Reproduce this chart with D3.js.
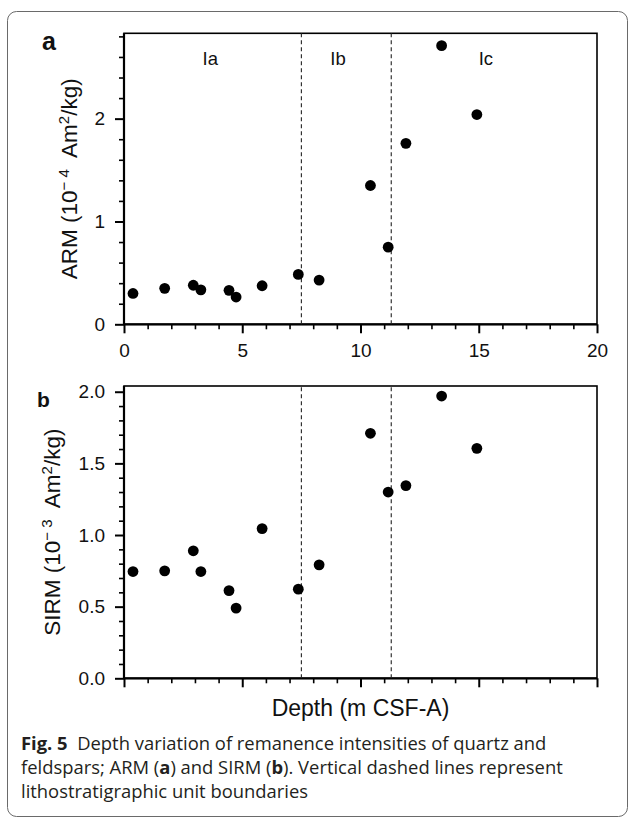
<!DOCTYPE html>
<html><head><meta charset="utf-8">
<script src="https://cdn.jsdelivr.net/npm/d3@7"></script>
<style>
body{margin:0;background:#fff;}
svg{display:block;}
</style></head>
<body>
<svg id="chart" width="629" height="820"></svg>
<script>
// ---- data ----
const depth = [0.38, 1.72, 2.93, 3.25, 4.44, 4.74, 5.84, 7.37, 8.25, 10.42, 11.17, 11.92, 13.43, 14.92];
const arm   = [0.30, 0.35, 0.38, 0.335, 0.33, 0.265, 0.375, 0.485, 0.43, 1.35, 0.75, 1.76, 2.71, 2.04];
const sirm  = [0.745, 0.75, 0.89, 0.745, 0.612, 0.49, 1.045, 0.622, 0.792, 1.71, 1.30, 1.345, 1.97, 1.605];
const boundaries = [7.5, 11.3];
const unitNames = ["Ia", "Ib", "Ic"];
const unitPos = [3.65, 9.05, 15.3];
const xTicks = [0, 5, 10, 15, 20];
const armTicks = [0, 1, 2];
const sirmTicks = [0, 0.5, 1.0, 1.5, 2.0];

const svg = d3.select("#chart");
const FONT = "'Liberation Sans', Arial, sans-serif";

// outer rounded border
svg.append("rect").attr("x", 7.5).attr("y", 11.5).attr("width", 620).attr("height", 805)
  .attr("rx", 9).attr("fill", "none").attr("stroke", "#6a6a6a").attr("stroke-width", 1);

const x = d3.scaleLinear().domain([0, 20]).range([124, 597]);

function panel(opts) {
  const {y, vals, majorY, minorStep, fmt, letter, letterPos, letterSize, showXLabels, yTitle, yTitleX, sup} = opts;
  const g = svg.append("g");
  const [y0, y1] = y.range();
  // frame
  g.append("rect").attr("x", x(0)).attr("y", y1).attr("width", x(20) - x(0)).attr("height", y0 - y1)
    .attr("fill", "none").attr("stroke", "#000").attr("stroke-width", 1.6);

  // minor x ticks
  const minorX = d3.range(0, 21, 1).filter(v => v % 5 !== 0);
  g.append("g").attr("transform", `translate(0,${y0})`)
    .call(d3.axisBottom(x).tickValues(minorX).tickSize(5).tickFormat(""))
    .call(a => a.select(".domain").remove())
    .call(a => a.selectAll("line").attr("stroke-width", 1.6));
  const xa = g.append("g").attr("transform", `translate(0,${y0})`)
    .call(d3.axisBottom(x).tickValues(xTicks).tickSize(9).tickPadding(10)
      .tickFormat(showXLabels ? d3.format("d") : ""));
  xa.select(".domain").attr("stroke-width", 2.2).attr("d", `M${x(0)},0H${x(20)}`);
  xa.selectAll("line").attr("stroke-width", 2);
  xa.selectAll("text").attr("font-family", FONT).attr("font-size", 19).attr("fill", "#111");

  // minor y ticks
  const top = y.domain()[1];
  const minorY = d3.range(0, top + 1e-9, minorStep).filter(v => !majorY.some(m => Math.abs(m - v) < 1e-6));
  g.append("g").attr("transform", `translate(${x(0)},0)`)
    .call(d3.axisLeft(y).tickValues(minorY).tickSize(5).tickFormat(""))
    .call(a => a.select(".domain").remove())
    .call(a => a.selectAll("line").attr("stroke-width", 1.6));
  const ya = g.append("g").attr("transform", `translate(${x(0)},0)`)
    .call(d3.axisLeft(y).tickValues(majorY).tickSize(9).tickPadding(10).tickFormat(fmt));
  ya.select(".domain").attr("stroke-width", 2.2).attr("d", `M0,${y0}V${y1}`);
  ya.selectAll("line").attr("stroke-width", 2);
  ya.selectAll("text").attr("font-family", FONT).attr("font-size", 19).attr("fill", "#111");

  // boundaries
  g.selectAll(".bnd").data(boundaries).enter().append("line")
    .attr("x1", d => x(d)).attr("x2", d => x(d)).attr("y1", y0).attr("y2", y1)
    .attr("stroke", "#222").attr("stroke-width", 1.1).attr("stroke-dasharray", "4,3");

  // points
  g.selectAll(".pt").data(depth.map((d, i) => [d, vals[i]])).enter().append("circle")
    .attr("cx", d => x(d[0])).attr("cy", d => y(d[1])).attr("r", 5.4).attr("fill", "#000");

  // panel letter
  g.append("text").attr("x", letterPos[0]).attr("y", letterPos[1]).text(letter)
    .attr("font-family", FONT).attr("font-weight", "bold").attr("font-size", letterSize).attr("fill", "#111");

  // y title
  const cy = (y0 + y1) / 2;
  const t = g.append("text").attr("transform", `translate(${yTitleX},${cy}) rotate(-90)`)
    .attr("text-anchor", "middle").attr("font-family", FONT).attr("font-size", 22.5).attr("fill", "#111");
  t.append("tspan").text(yTitle + " (10");
  t.append("tspan").attr("font-size", 15).attr("dy", -8).text("\u2212 " + sup);
  t.append("tspan").attr("dy", 8).text("\u00a0 Am");
  t.append("tspan").attr("font-size", 15).attr("dy", -8).text("2");
  t.append("tspan").attr("dy", 8).text("/kg)");
  return g;
}

const yA = d3.scaleLinear().domain([0, 2.83]).range([324.3, 33.3]);
const gA = panel({y: yA, vals: arm, majorY: armTicks, minorStep: 0.2, fmt: d3.format("d"),
  letter: "a", letterPos: [42, 50], letterSize: 25, showXLabels: true, yTitle: "ARM", yTitleX: 77, sup: "4"});

// unit labels
gA.selectAll(".unit").data(unitNames).enter().append("text")
  .attr("x", (d, i) => x(unitPos[i])).attr("y", 65).attr("text-anchor", "middle")
  .attr("font-family", FONT).attr("font-size", 18.5).attr("fill", "#111").text(d => d);

const yB = d3.scaleLinear().domain([0, 2.04]).range([678.3, 386]);
panel({y: yB, vals: sirm, majorY: sirmTicks, minorStep: 0.1, fmt: d3.format(".1f"),
  letter: "b", letterPos: [37, 407], letterSize: 21, showXLabels: false, yTitle: "SIRM", yTitleX: 60, sup: "3"});

// x title
svg.append("text").attr("x", x(10)).attr("y", 716).attr("text-anchor", "middle")
  .attr("font-family", FONT).attr("font-size", 23).attr("fill", "#111").text("Depth (m CSF-A)");

// caption
const CAP = "'Open Sans', 'Noto Sans', sans-serif";
const capLines = [
  [["Fig. 5", true], ["\u00a0\u00a0Depth variation of remanence intensities of quartz and", false]],
  [["feldspars; ARM (", false], ["a", true], [") and SIRM (", false], ["b", true], ["). Vertical dashed lines represent", false]],
  [["lithostratigraphic unit boundaries", false]]
];
const capY = [750, 774, 798];
capLines.forEach((parts, i) => {
  const t = svg.append("text").attr("x", 21).attr("y", capY[i])
    .attr("font-family", CAP).attr("font-size", 18.4).attr("fill", "#231f20");
  parts.forEach(p => t.append("tspan").attr("font-weight", p[1] ? "bold" : "normal").text(p[0]));
});
</script>
</body></html>
